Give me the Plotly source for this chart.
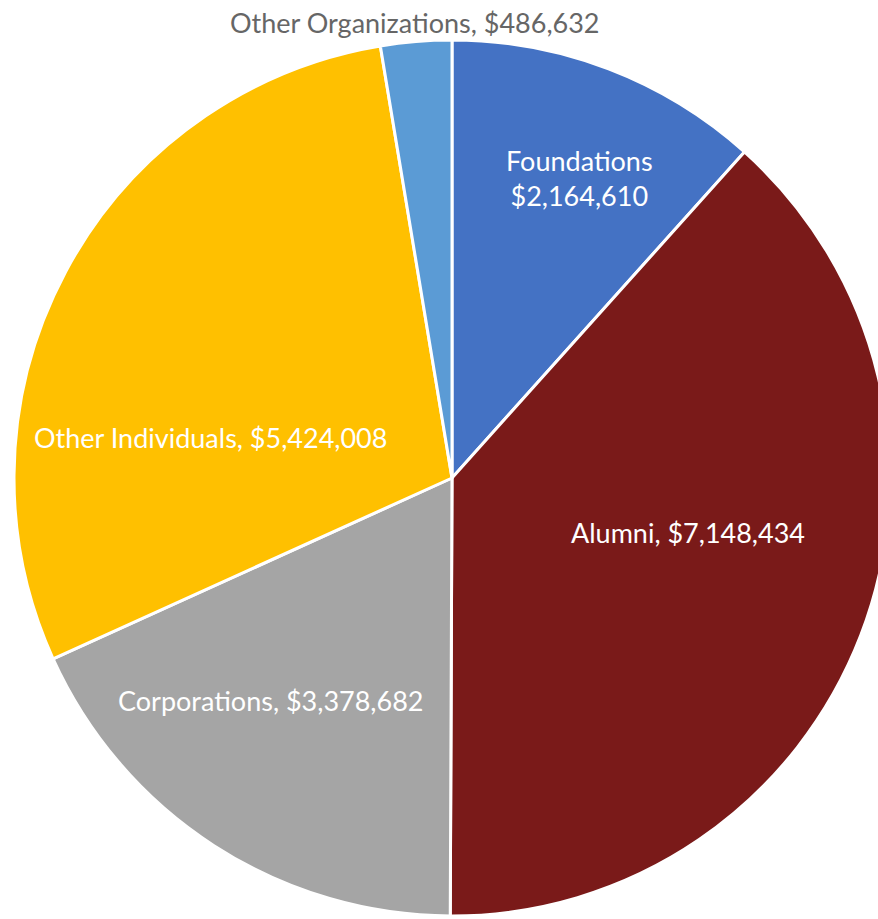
import plotly.graph_objects as go

# Gift sources and amounts, clockwise from 12 o'clock
categories = ["Foundations", "Alumni", "Corporations", "Other Individuals", "Other Organizations"]
amounts = [2164610, 7148434, 3378682, 5424008, 486632]
colors = ["#4472C4", "#7A1A19", "#A5A5A5", "#FFC000", "#5B9BD5"]

# Where each slice's label is centred (pixels from the top-left corner)
label_xy = {
    "Foundations": (579, 178),
    "Alumni": (688, 532),
    "Corporations": (270, 700),
    "Other Individuals": (210, 437),
    "Other Organizations": (415, 22),
}


def money(v):
    return "${:,}".format(v)


W, H = 904, 919

fig = go.Figure(
    go.Pie(
        labels=categories,
        values=amounts,
        textinfo="none",
        sort=False,
        direction="clockwise",
        rotation=0,
        marker=dict(colors=colors, line=dict(color="white", width=3)),
        hoverinfo="label+value+percent",
        showlegend=False,
        domain=dict(x=[0, 1], y=[3 / H, 879 / H]),
    )
)

for name, v in zip(categories, amounts):
    if name == "Foundations":
        txt = f"{name}<br>{money(v)}"
    else:
        txt = f"{name}, {money(v)}"
    colour = "#666666" if name == "Other Organizations" else "white"
    px, py = label_xy[name]
    fig.add_annotation(
        x=px / W, y=1 - py / H, xref="paper", yref="paper",
        text=txt, showarrow=False,
        xanchor="center", yanchor="middle", align="center",
        font=dict(family="Lato", size=27, color=colour),
    )

fig.update_layout(
    width=W, height=H,
    margin=dict(l=0, r=0, t=0, b=0),
    paper_bgcolor="white",
    plot_bgcolor="white",
)

fig.write_html(
    "out.html",
    post_script="document.documentElement.style.overflow='hidden';document.body.style.overflow='hidden';document.body.style.margin='0';",
)
